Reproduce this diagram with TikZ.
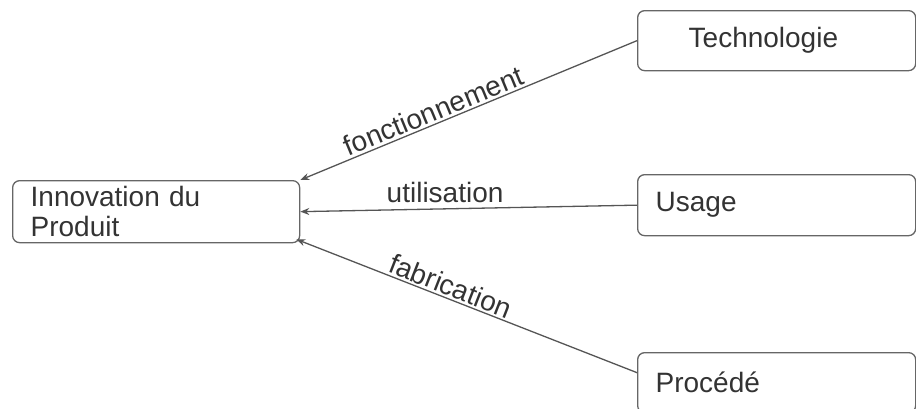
\documentclass[tikz,border=0pt]{standalone}
\usepackage{fontspec}
\setmainfont{Liberation Sans}
\usetikzlibrary{arrows.meta}
\definecolor{boxgray}{HTML}{666666}
\definecolor{linegray}{HTML}{555555}
\definecolor{textgray}{HTML}{333333}
\begin{document}
\begin{tikzpicture}[x=1pt, y=-1pt, >={Stealth[length=9pt,width=7pt]}]

      \tikzset{enclosed/.style={draw=boxgray, line width=1.3pt, rounded corners=7pt, anchor=north west,
               inner xsep=18pt, align=left, text=textgray, font=\fontsize{28}{30}\selectfont},
               link/.style={draw=linegray, line width=1.3pt, text=textgray, font=\fontsize{28}{30}\selectfont}}
      \useasboundingbox (0,0) rectangle (916,408);
      \clip (0,0) rectangle (916,408);
%% Boxes
      	\node[enclosed, minimum width=287pt, minimum height=62pt, text width=251pt] (prod) at (12,180) {Innovation du\\Produit};
      	\node[enclosed, minimum width=278pt, minimum height=60pt, text width=242pt] (tech) at (637,10) {\hspace*{33pt}Technologie};
    	\node[enclosed, minimum width=278pt, minimum height=61pt, text width=242pt] (usage) at (637,174) {Usage};
  	    \node[enclosed, minimum width=278pt, minimum height=60pt, text width=242pt] (proc) at (637,352) {Procédé};
%Links
		\draw [link, ->] (tech.west) -- node[pos=0.59, sloped, above, inner sep=2pt] {fonctionnement} (prod.north east);
		\draw [link, ->] (usage.west) -- node[pos=0.57, above=2pt] {utilisation} (prod.east);
		\draw [link, ->] ([yshift=10pt]proc.west) -- node[pos=0.56, sloped, above, inner sep=2pt] {fabrication} ([xshift=-4pt, yshift=4pt]prod.south east);

	\end{tikzpicture}
\end{document}
